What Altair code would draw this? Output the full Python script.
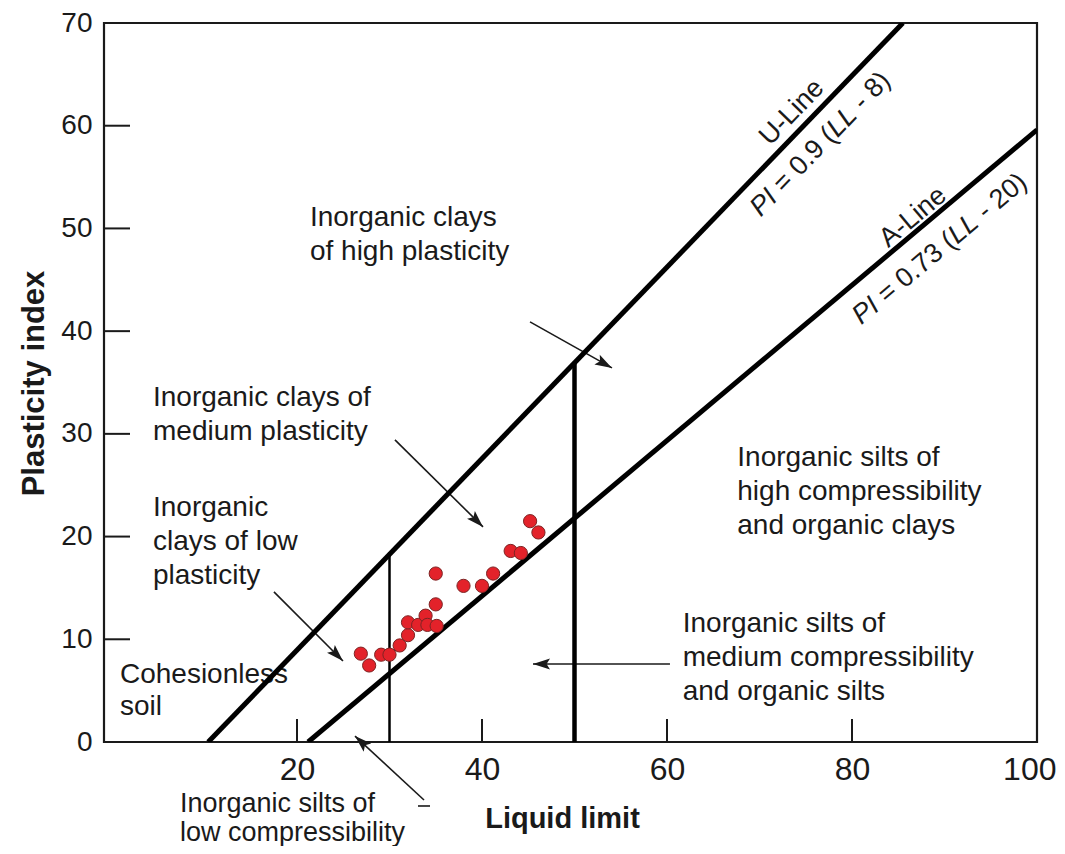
import altair as alt
import pandas as pd

# ---------------- data ----------------
LL_PTS = [26.9, 27.8, 29.1, 30.0, 31.1, 32.0, 32.0, 33.1, 33.9, 34.1,
          35.1, 35.0, 35.0, 38.0, 40.0, 41.2, 43.1, 44.2, 45.2, 46.1]
PI_PTS = [8.6, 7.45, 8.5, 8.5, 9.4, 10.4, 11.65, 11.4, 12.3, 11.4,
          11.3, 13.4, 16.4, 15.2, 15.2, 16.4, 18.6, 18.4, 21.5, 20.4]

U_LINE_LL = [10.4, 85.5]
U_LINE_PI = [0, 70]
A_LINE_LL = [21.2, 100]
A_LINE_PI = [0, 59.6]

DIV_LL = [30, 50]
DIV_TOP_PI = [18.5, 36.9]
DIV_WIDTH = [2.5, 4.5]

X_TICKS = [20, 40, 60, 80]
X_LABELS = [20, 40, 60, 80, 100]
Y_TICKS = [10, 20, 30, 40, 50, 60]
Y_LABELS = [0, 10, 20, 30, 40, 50, 60, 70]

REGION_TEXT = [
    "Inorganic clays\nof high plasticity",
    "Inorganic clays of\nmedium plasticity",
    "Inorganic\nclays of low\nplasticity",
    "Inorganic silts of\nhigh compressibility\nand organic clays",
    "Inorganic silts of\nmedium compressibility\nand organic silts",
]
REGION_LL = [21.4, 4.43, 4.43, 67.6, 61.7]
REGION_PI = [50.2, 32.7, 22.0, 26.9, 10.7]

COH_TEXT = ["Cohesionless\nsoil"]
COH_LL = [0.86]
COH_PI = [5.74]

LOWSILT_TEXT = ["Inorganic silts of\nlow compressibility"]
LOWSILT_LL = [7.35]
LOWSILT_PI = [-6.82]

# arrows: polyline vertices
ARROW_ID = [1, 1, 2, 2, 3, 3, 4, 4, 5, 5, 6, 6]
ARROW_LL = [45.19, 54.05, 30.59, 40.11, 17.51, 24.97, 60.32, 45.51,
            33.73, 26.27, 33.08, 34.38]
ARROW_PI = [40.90, 36.42, 29.41, 20.94, 14.61, 7.89, 7.59, 7.59,
            -5.65, 0.58, -6.23, -6.23]
ARROW_SEQ = [0, 1, 0, 1, 0, 1, 0, 1, 0, 1, 0, 1]

TIP_LL = [54.05, 40.11, 24.97, 45.51, 26.27]
TIP_PI = [36.42, 20.94, 7.89, 7.59, 0.58]
TIP_ANGLE = [119, 135, 135, 270, 313]

# rotated line labels
LINE_NAME = ["U-Line", "A-Line"]
LINE_NAME_LL = [73.5, 86.6]
LINE_NAME_PI = [61.3, 51.1]
LINE_ANGLE = [314, 320]

EQ_CENTER_LL = [76.6, 89.5]
EQ_CENTER_PI = [58.2, 48.0]
EQ_PIECES = [["PI", "= 0.9 (", "LL", "- 8)"],
             ["PI", "= 0.73 (", "LL", "- 20)"]]
EQ_ITALIC = [True, False, True, False]
EQ_DX = [[-94.2, -61.2, 16.1, 53.7],
         [-109.2, -76.2, 16.1, 53.7]]

# ---------------- chart ----------------
FONT = "Liberation Sans"
INK = "#1a1a1a"
W, H = 933, 719

xs = alt.Scale(domain=[-0.865, 100], nice=False, zero=False)
ys = alt.Scale(domain=[0, 70], nice=False, zero=False)

x_axis = alt.Axis(values=X_LABELS, ticks=False, domain=False, grid=False,
                  labelFontSize=32, labelPadding=12, labelColor=INK, labelFont=FONT,
                  labelFlush=False, labelOverlap=False, labelBound=False,
                  labelAlign={"condition": {"test": "datum.value == 100", "value": "right"},
                              "value": "center"},
                  labelOffset={"condition": {"test": "datum.value == 100", "value": 19},
                               "value": 0},
                  title="Liquid limit", titleFont=FONT, titleFontSize=29,
                  titleFontWeight="bold", titleColor=INK, titleX=458, titleY=76,
                  titleAlign="center", titleBaseline="middle")
y_axis = alt.Axis(values=Y_LABELS, ticks=False, domain=False, grid=False,
                  labelFontSize=28, labelPadding=12, labelColor=INK, labelFont=FONT,
                  labelFlush=False, labelOverlap=False,
                  title="Plasticity index", titleFont=FONT, titleFontSize=31,
                  titleFontWeight="bold", titleColor=INK, titleX=-70, titleY=360,
                  titleAngle=270, titleAlign="center", titleBaseline="middle")

pts = pd.DataFrame({"LL": LL_PTS, "PI": PI_PTS})
base_pts = alt.Chart(pts).mark_point(
    filled=True, shape="circle", size=175, color="#e3222a",
    stroke="#7d2424", strokeWidth=1, opacity=1
).encode(x=alt.X("LL:Q", scale=xs, axis=x_axis),
         y=alt.Y("PI:Q", scale=ys, axis=y_axis))

uline = alt.Chart(pd.DataFrame({"LL": U_LINE_LL, "PI": U_LINE_PI})).mark_line(
    color="black", strokeWidth=5, clip=True
).encode(x=alt.X("LL:Q", scale=xs), y=alt.Y("PI:Q", scale=ys))
aline = alt.Chart(pd.DataFrame({"LL": A_LINE_LL, "PI": A_LINE_PI})).mark_line(
    color="black", strokeWidth=5, clip=True
).encode(x=alt.X("LL:Q", scale=xs), y=alt.Y("PI:Q", scale=ys))

divs = alt.Chart(pd.DataFrame({"LL": DIV_LL, "top": DIV_TOP_PI, "w": DIV_WIDTH,
                               "bot": [0, 0]})).mark_rule(color="black").encode(
    x=alt.X("LL:Q", scale=xs), y=alt.Y("bot:Q", scale=ys), y2="top:Q",
    strokeWidth=alt.StrokeWidth("w:Q", scale=None))

xticks = alt.Chart(pd.DataFrame({"v": X_TICKS})).mark_rule(
    color=INK, strokeWidth=2).encode(
    x=alt.X("v:Q", scale=xs), y=alt.value(H - 23), y2=alt.value(H))
yticks = alt.Chart(pd.DataFrame({"v": Y_TICKS})).mark_rule(
    color=INK, strokeWidth=2).encode(
    y=alt.Y("v:Q", scale=ys), x=alt.value(0), x2=alt.value(26))

def text_layer(texts, lls, pis, line_height, size=28):
    df = pd.DataFrame({"t": texts, "LL": lls, "PI": pis})
    return alt.Chart(df).mark_text(
        align="left", baseline="alphabetic", font=FONT, fontSize=size,
        color=INK, lineBreak="\n", lineHeight=line_height, clip=False
    ).encode(x=alt.X("LL:Q", scale=xs), y=alt.Y("PI:Q", scale=ys), text="t:N")

regions = text_layer(REGION_TEXT, REGION_LL, REGION_PI, 34)
coh = text_layer(COH_TEXT, COH_LL, COH_PI, 32)
lowsilt = text_layer(LOWSILT_TEXT, LOWSILT_LL, LOWSILT_PI, 29, size=27)

arrows = alt.Chart(pd.DataFrame({"id": ARROW_ID, "LL": ARROW_LL, "PI": ARROW_PI,
                                 "s": ARROW_SEQ})).mark_line(
    color=INK, strokeWidth=1.6, clip=False).encode(
    x=alt.X("LL:Q", scale=xs), y=alt.Y("PI:Q", scale=ys),
    detail="id:N", order="s:Q")

heads = alt.Chart(pd.DataFrame({"LL": TIP_LL, "PI": TIP_PI, "a": TIP_ANGLE})).mark_point(
    shape="M0,0L-0.65,2L0,1.6L0.65,2Z", filled=True, size=290, color=INK,
    opacity=1, clip=False).encode(
    x=alt.X("LL:Q", scale=xs), y=alt.Y("PI:Q", scale=ys),
    angle=alt.Angle("a:Q", scale=None))

names = alt.Chart(pd.DataFrame({"t": LINE_NAME, "LL": LINE_NAME_LL, "PI": LINE_NAME_PI,
                                "a": LINE_ANGLE})).mark_text(
    align="center", baseline="middle", font=FONT, fontSize=27, color=INK).encode(
    x=alt.X("LL:Q", scale=xs), y=alt.Y("PI:Q", scale=ys), text="t:N",
    angle=alt.Angle("a:Q", scale=None))

eq_layers = []
for i in range(2):
    for j in range(4):
        df = pd.DataFrame({"t": [EQ_PIECES[i][j]], "LL": [EQ_CENTER_LL[i]],
                           "PI": [EQ_CENTER_PI[i]], "a": [LINE_ANGLE[i]]})
        eq_layers.append(alt.Chart(df).mark_text(
            align="left", baseline="middle", font=FONT, fontSize=27, color=INK,
            fontStyle="italic" if EQ_ITALIC[j] else "normal", dx=EQ_DX[i][j]
        ).encode(x=alt.X("LL:Q", scale=xs), y=alt.Y("PI:Q", scale=ys), text="t:N",
                 angle=alt.Angle("a:Q", scale=None)))

chart = alt.layer(
    base_pts.mark_point(opacity=0), regions, coh, lowsilt, names, *eq_layers,
    xticks, yticks, arrows, heads, uline, aline, divs, base_pts
).properties(
    width=W, height=H,
    autosize=alt.AutoSizeParams(type="none"),
    padding={"left": 96, "top": 15, "right": 20, "bottom": 104},
    background="white",
).configure_view(stroke=INK, strokeWidth=2.2)

chart.save("out.html", embed_options={"renderer": "svg", "actions": False})
